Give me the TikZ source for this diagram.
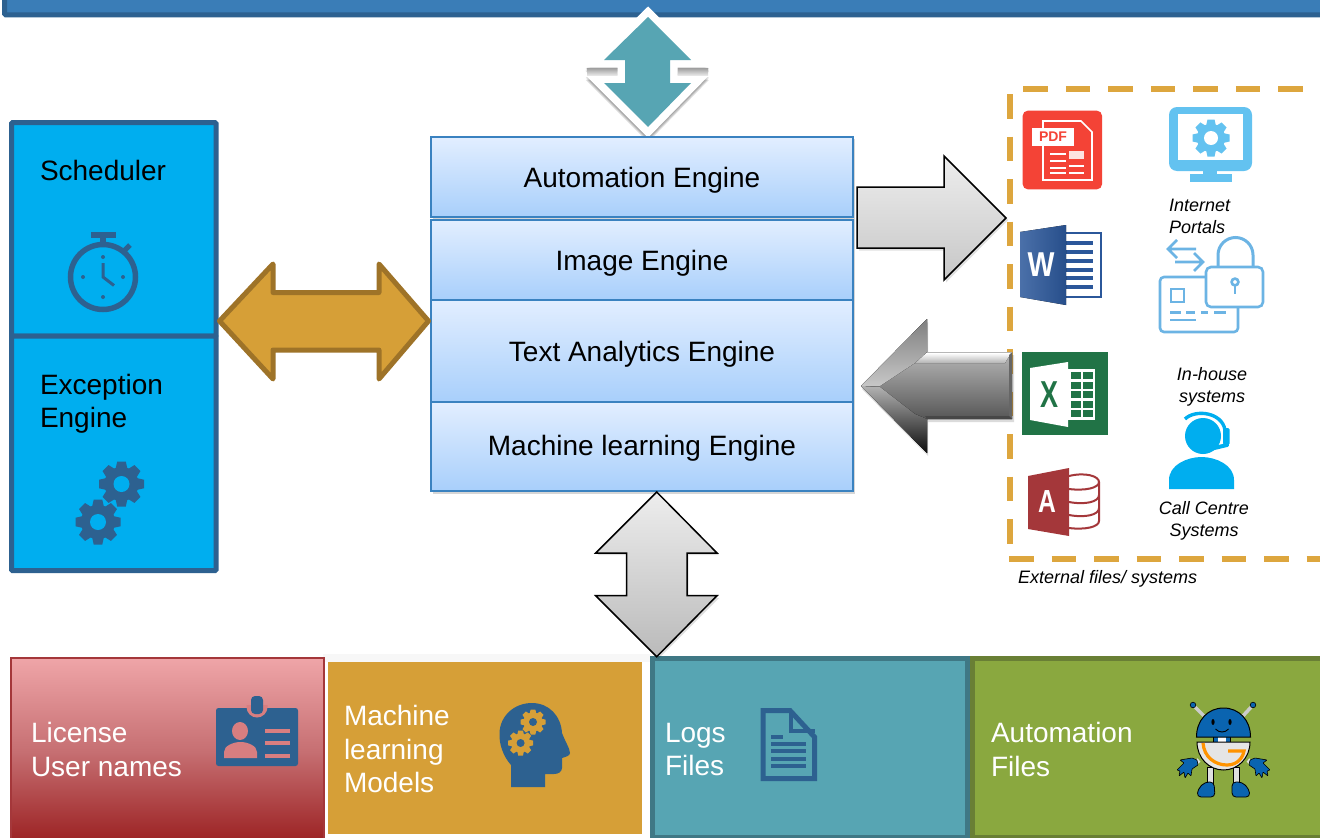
\documentclass[tikz,border=0pt]{standalone}
\usepackage{fontspec}
\setmainfont{Liberation Sans}
\definecolor{navy}{HTML}{2D6190}
\definecolor{topfill}{HTML}{3A7DB7}
\definecolor{cyanbox}{HTML}{00AEEF}
\definecolor{gold}{HTML}{D69F37}
\definecolor{golddark}{HTML}{9E7328}
\definecolor{teal}{HTML}{57A5B3}
\definecolor{tealdark}{HTML}{3F7885}
\definecolor{olive}{HTML}{8AA83F}
\definecolor{olivedark}{HTML}{697F35}
\definecolor{dashgold}{HTML}{DDA63E}
\definecolor{midedge}{HTML}{3A82C0}
\definecolor{midtop}{HTML}{E2EEFF}
\definecolor{midbottom}{HTML}{A8CFFB}
\definecolor{skyicon}{HTML}{63C2F0}
\definecolor{lockblue}{HTML}{6CB4E4}
\definecolor{wordblue}{HTML}{2B579A}
\definecolor{xlgreen}{HTML}{217346}
\definecolor{accred}{HTML}{A4373A}
\definecolor{pdfred}{HTML}{F44336}
\definecolor{robotblue}{HTML}{0A64B0}
\definecolor{idpink}{HTML}{D87E80}
\definecolor{lictop}{HTML}{EFA5A8}
\definecolor{licmid}{HTML}{C66F72}
\definecolor{licbot}{HTML}{9A1F20}
\tikzset{
  bigtext/.style={font=\fontsize{28}{33.5}\selectfont,align=left,inner sep=0pt,outer sep=0pt},
  whitetext/.style={bigtext,text=white},
  smalltext/.style={font=\fontsize{18}{22}\selectfont\itshape,inner sep=0pt,outer sep=0pt},
  sidebox/.style={draw=navy,fill=cyanbox,line width=5pt,inner sep=0pt,outer sep=0pt,rounded corners=1pt},
  midbox/.style={draw=midedge,line width=1.5pt,top color=midtop,bottom color=midbottom,
     minimum width=422pt,inner sep=0pt,outer sep=0pt,font=\fontsize{28}{33.5}\selectfont},
  footbox/.style={inner sep=0pt,outer sep=0pt},
  dashside/.style={draw=dashgold,line width=6pt,dash pattern=on 24.5pt off 18pt},
}
\newcommand{\gearicon}[6]{%
  \begin{scope}[shift={(#1,#2)}]
    \fill[#5] (0,0) circle[radius=.76*#3];
    \foreach \a in {0,45,...,315}{
      \fill[#5,rotate=\a] (-.28*#3,.6*#3) -- (-.19*#3,#3) -- (.19*#3,#3) -- (.28*#3,.6*#3) -- cycle;
    }
    \fill[#6] (0,0) circle[radius=#4];
  \end{scope}}
\newcommand{\robothand}{%
  \fill[robotblue,draw=black,line width=.6pt,rounded corners=.6pt] (1197,760) -- (1192,758) -- (1180,760) -- (1184,763) -- (1177,770) -- (1180,771) -- (1179,776) -- (1184,772) -- (1185,778) -- (1188,773) -- (1191,776) -- (1192,769) -- (1198,765) -- cycle;}
\newcommand{\tealpath}{(648,17) -- (691,60) -- (670,60) -- (670,83) -- (691,83) -- (648,127) -- (604,83) -- (625,83) -- (625,60) -- (604,60) -- cycle}
\newcommand{\midlabel}[2]{\smash{\raisebox{-#1pt}{#2}}}
\begin{document}
\begin{tikzpicture}[x=1pt,y=-1pt,line join=miter]
\useasboundingbox (0,0) rectangle (1320,838);
\clip (0,0) rectangle (1320,838);
\fill[white] (0,0) rectangle (1320,838);

% top bar
\node[footbox,draw=navy,fill=topfill,line width=5pt,rounded corners=1pt,minimum width=1330pt,minimum height=40pt,anchor=south west] (topbar) at (4.7,14.8) {};

% side boxes
\node[sidebox,minimum width=204.5pt,minimum height=213.5pt,anchor=north west] (sched) at (11.5,122.7) {};
\node[sidebox,minimum width=204.5pt,minimum height=234.5pt,anchor=north west] (exc) at (11.5,336) {};
\node[bigtext,anchor=west] (schedtxt) at (40,170.5) {Scheduler};
\node[bigtext,anchor=west] (exctxt) at (40,404) {Exception\\Engine};

% stopwatch
\draw[navy,line width=5.5pt] (103,277) circle[radius=32.5];
\fill[navy] (91,232) rectangle (116,238);
\fill[navy] (100,238) rectangle (106,244);
\draw[navy,line width=5pt] (124,251) -- (130,245);
\foreach \dx/\dy in {0/-20,0/20,-20/0,20/0}{\fill[navy] (103+\dx,277+\dy) circle[radius=2];}
\draw[navy,line width=3pt] (103,263) -- (103,277) -- (114,285.5);
% exception gears
\gearicon{121.5}{484}{22.5}{8}{navy}{cyanbox}
\gearicon{98}{522}{22.5}{8}{navy}{cyanbox}

% teal double arrow
\foreach \off in {1.5,3,4.5}{
  \begin{scope}[shift={(0,\off)}]
    \draw[black,fill=black,opacity=.13,line width=15pt,miter limit=4] \tealpath;
  \end{scope}
}
\draw[white,fill=white,line width=15pt,miter limit=4] \tealpath;
\fill[top color=black!38,bottom color=black!10] (587,68) rectangle (617,75);
\fill[top color=black!38,bottom color=black!10] (678,68) rectangle (708,75);
\fill[teal] \tealpath;

% middle engine boxes
\fill[black,opacity=.16] (433,139) rectangle (855,494);
\node[midbox,minimum height=80pt] (auto) at (642,177) {\midlabel{10.5}{Automation Engine}};
\node[midbox,minimum height=80pt] (img) at (642,260) {\midlabel{10.5}{Image Engine}};
\node[midbox,minimum height=102pt] (text) at (642,351) {\midlabel{10.5}{Text Analytics Engine}};
\node[midbox,minimum height=89pt] (ml) at (642,446.5) {\midlabel{8.5}{Machine learning Engine}};

% gold double arrow
\draw[fill=gold,draw=golddark,line width=5pt,line join=round]
  (219.5,321) -- (273,264) -- (273,292.5) -- (379,292.5) -- (379,264) -- (428.5,321) -- (379,379) -- (379,350) -- (273,350) -- (273,379) -- cycle;

% light right arrow
\fill[black,opacity=.12] (859,189.5) -- (946,189.5) -- (946,158) -- (1008,220) -- (946,282.5) -- (946,250.5) -- (859,250.5) -- cycle;
\draw[black,line width=1.5pt,top color=black!7,bottom color=black!22]
  (857,187) -- (944,187) -- (944,156) -- (1006,218) -- (944,280) -- (944,248) -- (857,248) -- cycle;

% dashed frame
\draw[dashside] (1023.3,89) -- (1325,89);
\draw[dashside] (1010,94) -- (1010,560);
\draw[dashside] (1009,558.7) -- (1325,558.7);

% dark left arrow
\fill[black,opacity=.14] (862,389) -- (928,322) -- (928,355) -- (1014,355) -- (1014,422) -- (928,422) -- (928,456) -- cycle;
\fill[top color=black!10,bottom color=black!85]
  (861,386) -- (927,319) -- (927,352) -- (1012,352) -- (1012,419) -- (927,419) -- (927,453) -- cycle;
\fill[top color=white,bottom color=black!30] (922,353) -- (1011,353) -- (1005,363) -- (915,363) -- cycle;
\fill[black!60] (1009,355) -- (1012,352.5) -- (1012,419) -- (1009,417) -- cycle;
\fill[black!72] (925,416) -- (1009,416) -- (1012,419) -- (927,419) -- cycle;
\fill[top color=black!50,bottom color=black!22] (861,386) -- (927,319) -- (927,352) -- (915,363) -- (880,386) -- cycle;
\fill[top color=black!30,bottom color=black!95] (861,386) -- (880,387) -- (915,414) -- (927,419) -- (927,453) -- cycle;

% PDF icon
\fill[pdfred,rounded corners=5pt] (1022.7,110.7) rectangle (1102,189.3);
\draw[white,line width=1.6pt] (1043,121) -- (1081,121) -- (1092,132) -- (1092,180) -- (1043,180) -- cycle;
\fill[white] (1032,128) rectangle (1074,146);
\node[text=pdfred,font=\fontsize{14}{14}\bfseries,inner sep=0pt] (pdflabel) at (1053,137) {PDF};
\foreach \yy in {153,160,167,172}{\fill[white] (1050,\yy) rectangle (1066,\yy+1.6);}
\foreach \yy in {165,172}{\fill[white] (1069,\yy) rectangle (1084,\yy+1.6);}
\fill[white!85!pdfred] (1069,151) rectangle (1084,159);

% monitor icon
\fill[skyicon,rounded corners=8pt] (1169,107) rectangle (1252,171);
\fill[white] (1178,114) rectangle (1243,160);
\fill[skyicon] (1203,170) rectangle (1217,176);
\fill[skyicon] (1190,174) rectangle (1232,182);
\gearicon{1211}{138}{18.5}{7}{skyicon}{white}
\node[smalltext,anchor=west,align=left] (portals) at (1169,216) {Internet\\Portals};

% word icon
\draw[wordblue,fill=white,line width=1.6pt] (1062,233) rectangle (1101,297);
\foreach \yy in {243,252,261,270,278,287}{\draw[wordblue,line width=3.2pt] (1066,\yy) -- (1093,\yy);}
\fill[left color=wordblue!85!white,right color=wordblue!90!black] (1020,232) -- (1066,225) -- (1066,305) -- (1020,297) -- cycle;
\node[text=white,font=\fontsize{30}{30}\bfseries,inner sep=0pt] (wordw) at (1041,265) {\scalebox{.95}[1.15]{W}};

% lock icon
\draw[lockblue,line width=2.6pt,rounded corners=4pt,fill=white] (1160,277) rectangle (1238,332);
\draw[lockblue,line width=2.6pt] (1171,289) rectangle (1184,302);
\draw[lockblue,line width=2.6pt] (1170,312.7) -- (1181,312.7) (1186,312.7) -- (1195,312.7) (1201,312.7) -- (1208,312.7) (1214,312.7) -- (1226,312.7);
\draw[lockblue,line width=2.6pt] (1170,320) -- (1196,320);
\draw[lockblue,line width=3pt] (1218,268) -- (1218,255) arc[start angle=180,end angle=360,radius=17.5] -- (1253,268);
\draw[lockblue,line width=2.6pt,rounded corners=5pt,fill=white] (1206,267) rectangle (1263,307);
\draw[lockblue,line width=2.6pt] (1235,282) circle[radius=3.4];
\draw[lockblue,line width=2.6pt] (1235,285.5) -- (1235,294);
\draw[lockblue,line width=2.6pt] (1196,249) -- (1169,249) (1177,240) -- (1168,249) -- (1177,258);
\draw[lockblue,line width=2.6pt] (1175,262) -- (1203,262) (1194,253) -- (1203,262) -- (1194,271);

% excel icon
\fill[xlgreen] (1022,352) rectangle (1108,435);
\fill[white] (1030,368) -- (1068,362) -- (1068,427) -- (1030,420) -- cycle;
\fill[white] (1068,369) rectangle (1095,420);
\foreach \r in {0,1,2,3,4}{
  \fill[xlgreen] (1071,372+\r*9.6) rectangle (1081,379+\r*9.6);
  \fill[xlgreen] (1083,372+\r*9.6) rectangle (1093,379+\r*9.6);
}
\node[text=xlgreen,font=\fontsize{30}{30}\bfseries,inner sep=0pt] (xlx) at (1049,395) {\scalebox{.9}[1.25]{X}};

% access icon
\draw[accred,line width=2pt] (1069,476) .. controls (1085,472) and (1099,476) .. (1099,482) .. controls (1099,488) and (1085,491) .. (1069,489);
\draw[accred,line width=2pt] (1099,482) -- (1099,521) .. controls (1099,527) and (1085,530) .. (1069,528);
\draw[accred,line width=2pt] (1069,502) .. controls (1085,505) and (1099,502) .. (1099,495);
\draw[accred,line width=2pt] (1069,515) .. controls (1085,518) and (1099,515) .. (1099,508);
\fill[accred] (1028,476) -- (1069,468) -- (1069,536) -- (1028,529) -- cycle;
\node[text=white,font=\fontsize{29}{29}\bfseries,inner sep=0pt] (acca) at (1047,502) {\scalebox{.85}[1.1]{A}};

% call centre icon
\node[smalltext,align=center] (inhouse) at (1212,386.5) {In-house\\systems};
\fill[cyanbox] (1203,436) circle[radius=18];
\draw[cyanbox,line width=3.4pt] (1185,419) .. controls (1195,409) and (1222,412) .. (1225,430);
\fill[cyanbox,rounded corners=1.5pt] (1223,428) rectangle (1229.5,445);
\draw[cyanbox,line width=4pt,line cap=round] (1227,445) -- (1208,449.5);
\fill[cyanbox] (1169,489) -- (1169,480) .. controls (1169,465) and (1187,457) .. (1201.5,457) .. controls (1216,457) and (1234,465) .. (1234,480) -- (1234,489) -- cycle;
\node[smalltext,align=center] (callc) at (1204,520.5) {Call Centre\\Systems};
\node[smalltext,anchor=west] (ext) at (1018,579) {External files/ systems};

% bottom boxes
\fill[black,opacity=.03] (323,654) rectangle (650,662);
\path[draw=accred,line width=1.5pt,top color=lictop,bottom color=licbot,middle color=licmid]
  (11,658) rectangle (324,845);
\node[whitetext,anchor=west] (lic) at (31,749.5) {License\\User names};
\fill[navy,rounded corners=2.5pt] (216,708) rectangle (298,766);
\fill[idpink] (246.5,705) -- (246.5,707) arc[start angle=180,end angle=0,radius=10.5] -- (267.5,705) -- cycle;
\fill[navy,rounded corners=4pt] (251,696) rectangle (263,714);
\fill[idpink] (240,731) ellipse[x radius=8,y radius=9];
\fill[idpink] (224,758) -- (224,752) .. controls (224,746) and (233,742) .. (240.5,742) .. controls (248,742) and (257,746) .. (257,752) -- (257,758) -- cycle;
\foreach \yy in {729,741,754}{\fill[idpink] (265,\yy) rectangle (290,\yy+4);}

\node[footbox,fill=gold,minimum width=314pt,minimum height=172pt,anchor=north west] (mlbox) at (328,662) {};
\node[whitetext,anchor=west] (mltxt) at (344,749) {Machine\\learning\\Models};
\fill[navy] (511,787) -- (511,765) .. controls (503,756) and (499,744) .. (499.5,733) .. controls (500,716) and (514,703) .. (532,703) .. controls (549,703) and (561,716) .. (562,733) .. controls (565,741) and (570,749) .. (570,753) .. controls (570,756) and (565,757) .. (562,758) -- (562,768) .. controls (562,772) and (558,774) .. (554,774) -- (545,774) -- (545,787) -- cycle;
\gearicon{533}{722}{12.5}{4}{gold}{navy}
\gearicon{520.6}{743}{12.5}{4}{gold}{navy}

\node[footbox,draw=tealdark,fill=teal,line width=5pt,minimum width=315.5pt,minimum height=179pt,anchor=north west] (logs) at (652,658.5) {};
\node[whitetext,anchor=west] (logstxt) at (665,749.5) {Logs\\Files};
\draw[navy,line width=5pt,miter limit=4] (763,710.5) -- (790,710.5) -- (814.5,737) -- (814.5,778.5) -- (763,778.5) -- cycle;
\draw[navy,line width=4pt] (791,710) -- (791,731) -- (815,731);
\fill[navy] (771,735) rectangle (783,739);
\foreach \yy in {742,749,757,764}{\fill[navy] (771,\yy) rectangle (806,\yy+4);}

\node[footbox,draw=olivedark,fill=olive,line width=5pt,minimum width=360pt,minimum height=179pt,anchor=north west] (autobox) at (972.5,658.5) {};
\node[whitetext,anchor=west] (autotxt) at (991,749.5) {Automation\\Files};

% vertical light double arrow
\fill[black,opacity=.13] (658,495) -- (719,555) -- (688.5,555) -- (688.5,598) -- (719,598) -- (658,659) -- (597.5,598) -- (628.5,598) -- (628.5,555) -- (597.5,555) -- cycle;
\draw[black,line width=1.5pt,top color=black!7,bottom color=black!27]
  (656.7,492) -- (717,553) -- (687,553) -- (687,595.7) -- (717,595.7) -- (656.7,656.7) -- (595.7,595.7) -- (626.7,595.7) -- (626.7,553) -- (595.7,553) -- cycle;

% robot
\draw[black!20,line width=3.5pt] (1205,717) -- (1193,705) (1242,717) -- (1253,705);
\fill[robotblue,draw=black,line width=.6pt] (1193,705) circle[radius=2.8] (1253,705) circle[radius=2.8];
\draw[black!12,line width=4.5pt] (1199,760) -- (1193,765);
\draw[black!12,line width=4.5pt] (1248,760) -- (1254,765);
\robothand
\begin{scope}[shift={(2447,0)},xscale=-1]\robothand\end{scope}
\foreach \lx in {1210,1236}{
  \draw[black,line width=.5pt,fill=black!12] (\lx-3,767) rectangle (\lx+3,784);
}
\fill[robotblue,draw=black,line width=.8pt,rounded corners=4pt] (1197,797) -- (1198,789) -- (1205,782) -- (1214,782) -- (1215,797) -- cycle;
\fill[robotblue,draw=black,line width=.8pt,rounded corners=4pt] (1232,797) -- (1232,782) -- (1242,782) -- (1249,789) -- (1250,797) -- cycle;
\fill[robotblue,draw=black,line width=.5pt] (1213,736) rectangle (1230,743);
\fill[white] (1217.5,737) rectangle (1225.5,743);
\draw[black,line width=1pt,fill=black!10] (1197,742) -- (1250,742) .. controls (1250,758) and (1238,770) .. (1223.5,770) .. controls (1209,770) and (1197,758) .. (1197,742) -- cycle;
\draw[orange!85!yellow,line width=3.2pt] (1203,743) .. controls (1204,757) and (1215,765) .. (1227,765) .. controls (1238,765) and (1243,757) .. (1244,751) -- (1228,751);
\fill[robotblue,draw=black,line width=1pt] (1196.5,737) .. controls (1196.5,720) and (1208,708) .. (1223.5,708) .. controls (1239,708) and (1250.5,720) .. (1250.5,737) -- cycle;
\fill[black] (1213,722) ellipse[x radius=1.6,y radius=3] (1230,722) ellipse[x radius=1.6,y radius=3];
\draw[black,line width=.9pt] (1215.5,729) .. controls (1219,733) and (1225,733) .. (1228.5,729);
\end{tikzpicture}
\end{document}
